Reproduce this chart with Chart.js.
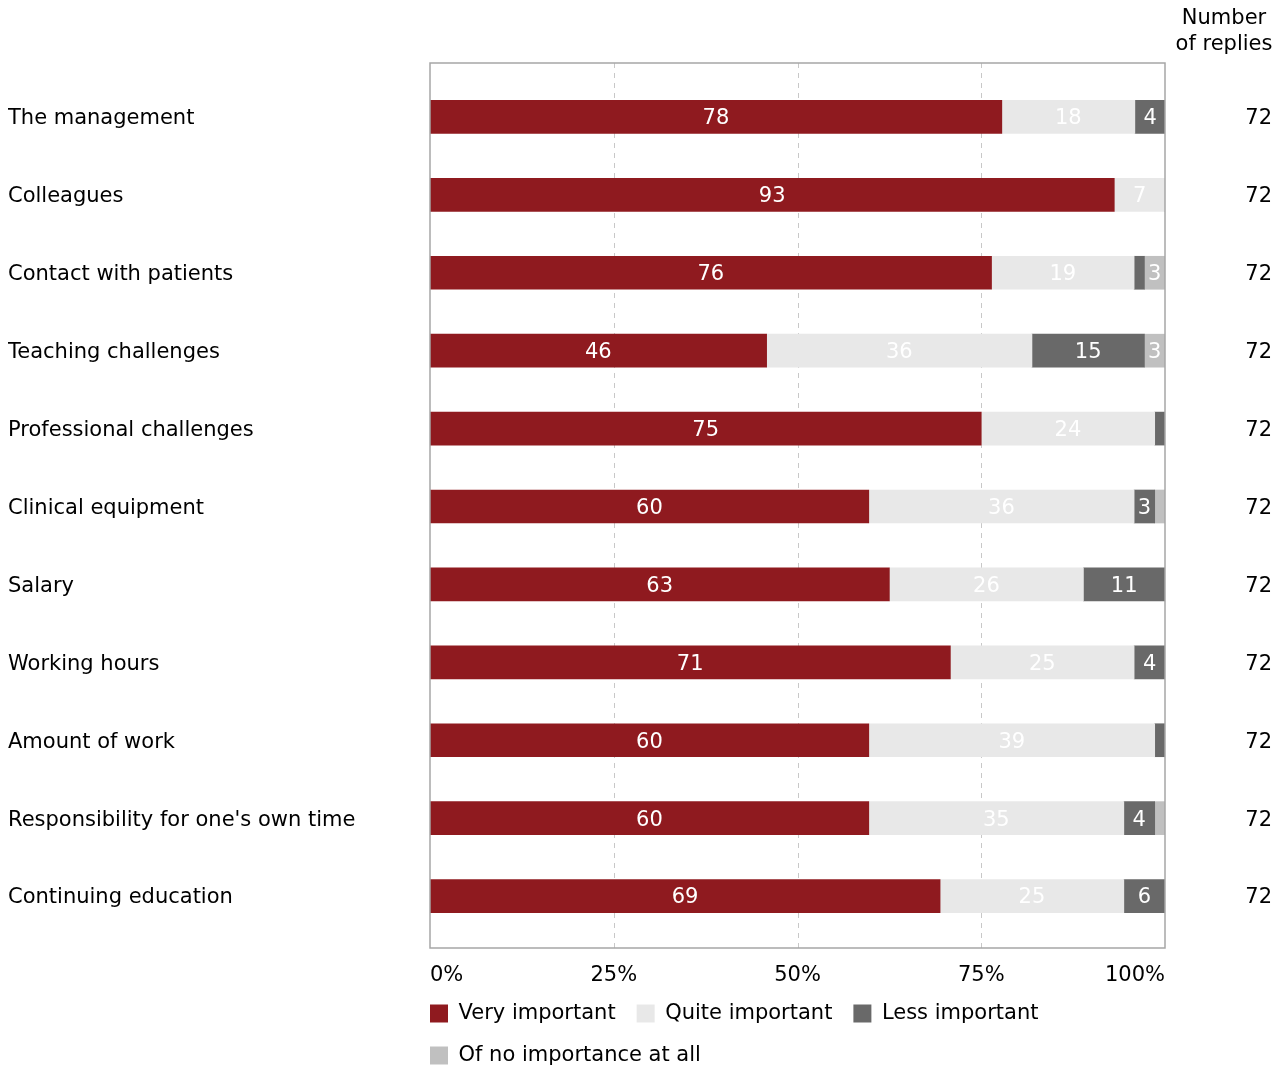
<!DOCTYPE html>
<html>
<head>
<meta charset="utf-8">
<script src="https://cdn.jsdelivr.net/npm/chart.js@4/dist/chart.umd.min.js"></script>
<style>
html, body { margin: 0; padding: 0; background: #fff; }
#wrap { width: 1287px; height: 1068px; position: relative; }
</style>
</head>
<body>
<div id="wrap"><canvas id="chart"></canvas></div>
<script>
var categories = [
    'The management',
    'Colleagues',
    'Contact with patients',
    'Teaching challenges',
    'Professional challenges',
    'Clinical equipment',
    'Salary',
    'Working hours',
    'Amount of work',
    "Responsibility for one's own time",
    'Continuing education'
];
var veryImportant = [77.8, 93.1, 76.4, 45.8, 75.0, 59.7, 62.5, 70.8, 59.7, 59.7, 69.4];
var quiteImportant = [18.1, 6.9, 19.4, 36.1, 23.6, 36.1, 26.4, 25.0, 38.9, 34.7, 25.0];
var lessImportant = [4.2, 0, 1.4, 15.3, 1.4, 2.8, 11.1, 4.2, 1.4, 4.2, 5.6];
var noImportance = [0, 0, 2.8, 2.8, 0, 1.4, 0, 0, 0, 1.4, 0];
var replies = [72, 72, 72, 72, 72, 72, 72, 72, 72, 72, 72];
var tickLabels = ['0%', '25%', '50%', '75%', '100%'];

var FONT = '"DejaVu Sans", Verdana, sans-serif';
Chart.defaults.font.family = FONT;
Chart.defaults.font.size = 21;
Chart.defaults.color = '#000';

// frame extends a bit above/below the bar rows
var FRAME_TOP = 15, FRAME_BOTTOM = 13;
var LEGEND_PAD = 21;

var framePlugin = {
    id: 'frame',
    beforeDraw: function (chart) {
        // line the legend up with the left edge of the plot
        chart.legend.left = chart.chartArea.left - LEGEND_PAD;
    },
    beforeDatasetsDraw: function (chart) {
        var ctx = chart.ctx, x = chart.scales.x, a = chart.chartArea;
        var top = a.top - FRAME_TOP, bottom = a.bottom + FRAME_BOTTOM;
        ctx.save();
        ctx.strokeStyle = '#c8c8c8';
        ctx.lineWidth = 1;
        ctx.setLineDash([5, 5]);
        [25, 50, 75].forEach(function (v) {
            var px = Math.round(x.getPixelForValue(v)) + 0.5;
            ctx.beginPath();
            ctx.moveTo(px, top);
            ctx.lineTo(px, bottom);
            ctx.stroke();
        });
        ctx.restore();
    },
    afterDatasetsDraw: function (chart) {
        var ctx = chart.ctx, x = chart.scales.x, a = chart.chartArea;
        var top = a.top - FRAME_TOP, bottom = a.bottom + FRAME_BOTTOM;
        ctx.save();
        ctx.strokeStyle = '#a6a6a6';
        ctx.lineWidth = 1.5;
        ctx.strokeRect(x.getPixelForValue(0), top, x.getPixelForValue(100) - x.getPixelForValue(0), bottom - top);

        // numbers inside the bars
        ctx.fillStyle = '#fff';
        ctx.font = '21px ' + FONT;
        ctx.textAlign = 'center';
        ctx.textBaseline = 'middle';
        chart.data.datasets.forEach(function (ds, di) {
            chart.getDatasetMeta(di).data.forEach(function (bar, i) {
                var v = ds.data[i];
                if (v < 2.5) return;
                ctx.fillText(Math.round(v), (bar.x + bar.base) / 2, bar.y + 2);
            });
        });
        ctx.restore();
    }
};

var repliesPlugin = {
    id: 'replies',
    afterDraw: function (chart) {
        var ctx = chart.ctx, y = chart.scales.y;
        ctx.save();
        ctx.fillStyle = '#000';
        ctx.font = '21px ' + FONT;
        ctx.textAlign = 'center';
        ctx.textBaseline = 'middle';
        ctx.fillText('Number', 1224, 19);
        ctx.fillText('of replies', 1224, 45);
        ctx.textAlign = 'right';
        replies.forEach(function (n, i) {
            ctx.fillText(n, 1272, y.getPixelForValue(i) + 2);
        });
        ctx.restore();
    }
};

new Chart(document.getElementById('chart'), {
    type: 'bar',
    data: {
        labels: categories,
        datasets: [
            { label: 'Very important', data: veryImportant, backgroundColor: '#8f1a1f' },
            { label: 'Quite important', data: quiteImportant, backgroundColor: '#e8e8e8' },
            { label: 'Less important', data: lessImportant, backgroundColor: '#696969' },
            { label: 'Of no importance at all', data: noImportance, backgroundColor: '#c0c0c0' }
        ]
    },
    options: {
        indexAxis: 'y',
        responsive: true,
        maintainAspectRatio: false,
        animation: false,
        datasets: { bar: { barThickness: 33, borderWidth: 0 } },
        layout: { padding: { left: 8, right: 122, top: 78, bottom: -8 } },
        scales: {
            x: {
                stacked: true,
                min: 0,
                max: 100,
                grid: { display: false, drawTicks: false },
                border: { display: false },
                ticks: {
                    stepSize: 25,
                    align: 'inner',
                    padding: 28,
                    color: '#000',
                    callback: function (value, index) { return tickLabels[index]; }
                },
                afterFit: function (scale) { scale.height = 47; }
            },
            y: {
                stacked: true,
                grid: { display: false, drawTicks: false },
                border: { display: false },
                ticks: { crossAlign: 'far', color: '#000', padding: 0, labelOffset: 2 },
                afterFit: function (scale) { scale.width = 422; }
            }
        },
        plugins: {
            legend: {
                position: 'bottom',
                align: 'start',
                fullSize: false,
                labels: { boxWidth: 18, boxHeight: 18, padding: LEGEND_PAD, color: '#000' }
            },
            tooltip: { enabled: false }
        }
    },
    plugins: [framePlugin, repliesPlugin]
});
</script>
</body>
</html>
